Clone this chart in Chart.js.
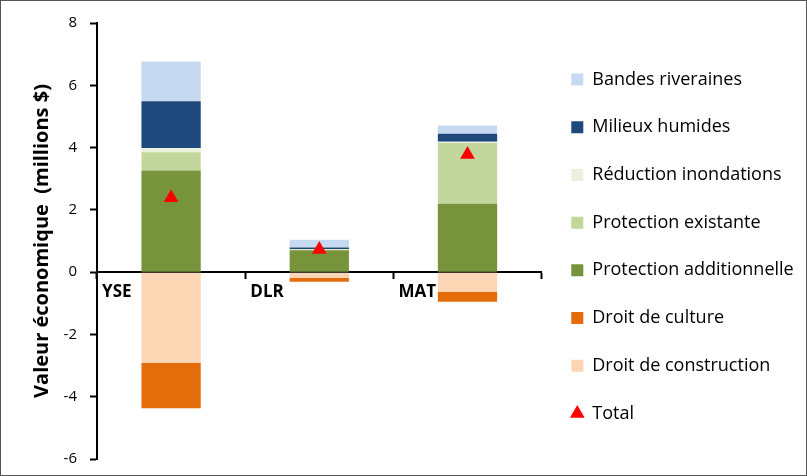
<!DOCTYPE html>
<html>
<head>
<meta charset="utf-8">
<script src="https://cdn.jsdelivr.net/npm/chart.js@4.4.1/dist/chart.umd.min.js"></script>
<style>
    html, body { margin: 0; padding: 0; background: #fff; }
    #frame { width: 807px; height: 476px; box-sizing: border-box; border: 1px solid #555; position: relative; }
    #frame canvas { display: block; }
</style>
</head>
<body>
<div id="frame"><canvas id="chart" width="805" height="474"></canvas></div>
<script>
// Categories and series (millions $)
const categories = ['YSE', 'DLR', 'MAT'];
const protectionAdditionnelle = [3.26, 0.70, 2.20];
const protectionExistante = [0.59, 0.03, 1.95];
const reductionInondations = [0.14, 0.01, 0.04];
const milieuxHumides = [1.50, 0.05, 0.25];
const bandesRiveraines = [1.27, 0.25, 0.27];
const droitConstruction = [-2.92, -0.19, -0.64];
const droitCulture = [-1.45, -0.12, -0.31];
const total = [2.39, 0.73, 3.78];

const yMin = -6, yMax = 8, yStep = 2;

// Legend order as shown in the figure
const legendOrder = [
    'Bandes riveraines', 'Milieux humides', 'Réduction inondations', 'Protection existante',
    'Protection additionnelle', 'Droit de culture', 'Droit de construction', 'Total'
];

const font = '"Open Sans", sans-serif';

function barSet(label, data, color) {
    return {
        type: 'bar', label, data, backgroundColor: color, borderWidth: 0, order: 2,
        stack: 'valeur', pointStyle: 'rect', barPercentage: 0.8, categoryPercentage: 0.5
    };
}

const datasets = [
    barSet('Protection additionnelle', protectionAdditionnelle, '#77933C'),
    barSet('Protection existante', protectionExistante, '#C3D69B'),
    barSet('Réduction inondations', reductionInondations, '#EBF1DE'),
    barSet('Milieux humides', milieuxHumides, '#1F497D'),
    barSet('Bandes riveraines', bandesRiveraines, '#C6D9F1'),
    barSet('Droit de construction', droitConstruction, '#FCD5B5'),
    barSet('Droit de culture', droitCulture, '#E46C0A'),
    {
        type: 'line', label: 'Total', data: total, stack: 'total', showLine: false, order: 1,
        pointStyle: 'triangle', pointRadius: 8.5, pointHoverRadius: 8.5,
        backgroundColor: '#FF0000', borderColor: '#FF0000', borderWidth: 0
    }
];

new Chart(document.getElementById('chart'), {
    type: 'bar',
    data: { labels: categories, datasets },
    options: {
        responsive: false,
        animation: false,
        layout: { padding: { left: 0, top: 22, bottom: 16, right: 2.3 } },
        plugins: {
            tooltip: { enabled: false },
            legend: {
                position: 'right',
                maxWidth: 300,
                // empty title only nudges the items down a little
                title: { display: true, text: '', padding: { top: 1, bottom: 0 }, font: { size: 10, lineHeight: 1 } },
                labels: {
                    usePointStyle: true,
                    boxWidth: 12, boxHeight: 12,
                    padding: 29.7,
                    color: '#000',
                    font: { family: font, size: 18 },
                    sort: (a, b) => legendOrder.indexOf(a.text) - legendOrder.indexOf(b.text)
                }
            }
        },
        scales: {
            x: {
                stacked: true,
                position: { y: 0 },
                border: { color: '#000', width: 2 },
                grid: { offset: true, drawOnChartArea: false, tickLength: 6, color: '#000', tickWidth: 2 },
                ticks: {
                    align: 'start', labelOffset: -69, padding: 4, color: '#000',
                    font: { family: font, size: 17, weight: 'bold' }
                }
            },
            y: {
                stacked: true,
                min: yMin, max: yMax,
                afterFit: (scale) => {
                    scale.width = 96;
                    scale.paddingTop = 0;
                    scale.paddingBottom = 0;
                },
                border: { color: '#000', width: 2 },
                grid: { drawOnChartArea: false, tickLength: 7, color: '#000', tickWidth: 2 },
                ticks: { stepSize: yStep, color: '#000', padding: 13, font: { family: font, size: 15 } },
                title: {
                    display: true, text: 'Valeur économique  (millions $)', color: '#000',
                    font: { family: font, size: 20, weight: 'bold' }, padding: { top: 29, bottom: 4 }
                }
            }
        }
    }
});
</script>
</body>
</html>
